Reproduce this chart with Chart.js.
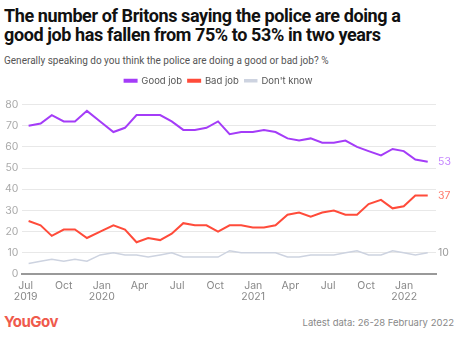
<!DOCTYPE html>
<html>
<head>
<meta charset="utf-8">
<script src="https://cdn.jsdelivr.net/npm/chart.js@4/dist/chart.umd.min.js"></script>
<style>
  body { margin: 0; width: 464px; height: 342px; background: #fff; font-family: Inter, "Open Sans", sans-serif; overflow: hidden; position: relative; }
  #title { position: absolute; left: 4px; top: 7px; font-family: Roboto, sans-serif; font-size: 18px; line-height: 18.5px; font-weight: 700; color: #111; letter-spacing: -0.4px; }
  #subtitle { position: absolute; left: 4px; top: 55px; font-family: Roboto, sans-serif; font-size: 10px; color: #555; }
  #wrap { position: absolute; left: 0; top: 70px; width: 464px; height: 238px; }
  #logo { position: absolute; left: 4px; top: 312px; font-size: 15px; font-weight: 700; color: #ef5a4c; letter-spacing: -0.5px; }
  #latest { position: absolute; right: 10px; top: 317px; font-size: 9.5px; color: #888; }
</style>
</head>
<body>
<div id="title">The number of Britons saying the police are doing a<br>good job has fallen from 75% to 53% in two years</div>
<div id="subtitle">Generally speaking do you think the police are doing a good or bad job? %</div>
<div id="wrap"><canvas id="chart"></canvas></div>
<div id="logo">YouGov</div>
<div id="latest">Latest data: 26-28 February 2022</div>
<script>
// survey dates (approx. every 4 weeks)
const dates = [
  "2019-07-08", "2019-08-06", "2019-09-02", "2019-10-01", "2019-10-28", "2019-11-26", "2019-12-28",
  "2020-01-29", "2020-02-26", "2020-03-25", "2020-04-22", "2020-05-21", "2020-06-18", "2020-07-16",
  "2020-08-13", "2020-09-10", "2020-10-08", "2020-11-05", "2020-12-03", "2020-12-31", "2021-01-27",
  "2021-02-24", "2021-03-25", "2021-04-22", "2021-05-20", "2021-06-17", "2021-07-15", "2021-08-12",
  "2021-09-09", "2021-10-07", "2021-11-06", "2021-12-04", "2021-12-31", "2022-01-28", "2022-02-27"
];
const goodJob = [70, 71, 75, 72, 72, 77, 72, 67, 69, 75, 75, 75, 72, 68, 68, 69, 72, 66, 67, 67, 68, 67, 64, 63, 64, 62, 62, 63, 60, 58, 56, 59, 58, 54, 53];
const badJob = [25, 23, 18, 21, 21, 17, 20, 23, 21, 15, 17, 16, 19, 24, 23, 23, 20, 23, 23, 22, 22, 23, 28, 29, 27, 29, 30, 28, 28, 33, 35, 31, 32, 37, 37];
const dontKnow = [5, 6, 7, 6, 7, 6, 9, 10, 9, 9, 8, 9, 10, 8, 8, 8, 8, 11, 10, 10, 10, 10, 8, 8, 9, 9, 9, 10, 11, 9, 9, 11, 10, 9, 10];

const tickDates = ["2019-07-01", "2019-10-01", "2020-01-01", "2020-04-01", "2020-07-01", "2020-10-01",
  "2021-01-01", "2021-04-01", "2021-07-01", "2021-10-01", "2022-01-01"];
const tickLabels = [["Jul", "2019"], "Oct", ["Jan", "2020"], "Apr", "Jul", "Oct", ["Jan", "2021"], "Apr", "Jul", "Oct", ["Jan", "2022"]];

const seriesNames = ["Good job", "Bad job", "Don't know"];
const seriesColors = ["#a43cf8", "#ff4b3a", "#cdd3e0"];
const endColors = ["#c585ff", "#ff7b6c", "#9a9a9a"];

const origin = Date.parse("2019-07-01");
function dayOf(d) {
  return (Date.parse(d) - origin) / 86400000;
}
function toPoints(values) {
  return values.map((v, i) => ({ x: dayOf(dates[i]), y: v }));
}

// extra room under the legend
const legendGap = {
  id: "legendGap",
  beforeInit(chart) {
    const fit = chart.legend.fit;
    chart.legend.fit = function () {
      fit.bind(chart.legend)();
      this.height += 9;
    };
  }
};

const endLabels = {
  id: "endLabels",
  afterDatasetsDraw(chart) {
    const ctx = chart.ctx;
    ctx.save();
    ctx.font = "10.5px Inter, sans-serif";
    ctx.textBaseline = "middle";
    chart.data.datasets.forEach((ds, i) => {
      const meta = chart.getDatasetMeta(i);
      const last = meta.data[meta.data.length - 1];
      ctx.fillStyle = endColors[i];
      ctx.fillText(ds.data[ds.data.length - 1].y, chart.chartArea.right + 2, last.y);
    });
    ctx.restore();
  }
};

const series = [goodJob, badJob, dontKnow];
new Chart(document.getElementById("chart"), {
  type: "line",
  data: {
    datasets: series.map((s, i) => ({
      label: seriesNames[i],
      data: toPoints(s),
      borderColor: seriesColors[i],
      backgroundColor: seriesColors[i],
      borderWidth: i == 2 ? 1.5 : 2,
      pointRadius: 0,
      tension: 0,
    })),
  },
  options: {
    responsive: true,
    maintainAspectRatio: false,
    animation: false,
    layout: { padding: { left: 1, right: 28, top: 0, bottom: 0 } },
    plugins: {
      legend: {
        position: "top",
        labels: {
          boxWidth: 12,
          boxHeight: 2,
          padding: 6,
          color: "#555",
          font: { family: "Inter", size: 9.5 },
        },
      },
      tooltip: { enabled: false },
    },
    scales: {
      x: {
        type: "linear",
        min: -8,
        max: 992,
        afterBuildTicks: (scale) => {
          scale.ticks = tickDates.map((d) => ({ value: dayOf(d) }));
        },
        ticks: {
          autoSkip: false,
          maxRotation: 0,
          padding: 6,
          color: "#888",
          font: { family: "Inter", size: 10.5, lineHeight: "11px" },
          callback: (value, index) => tickLabels[index],
        },
        grid: { display: false, drawTicks: false, tickLength: 0 },
        border: { display: true, color: "#999", width: 2 },
      },
      y: {
        min: 0,
        max: 80,
        ticks: {
          stepSize: 10,
          padding: 4,
          color: "#aaa",
          font: { family: "Inter", size: 10.5 },
        },
        grid: { color: "#e8e8e8", drawTicks: false },
        border: { display: false },
      },
    },
  },
  plugins: [endLabels, legendGap],
});
</script>
</body>
</html>
